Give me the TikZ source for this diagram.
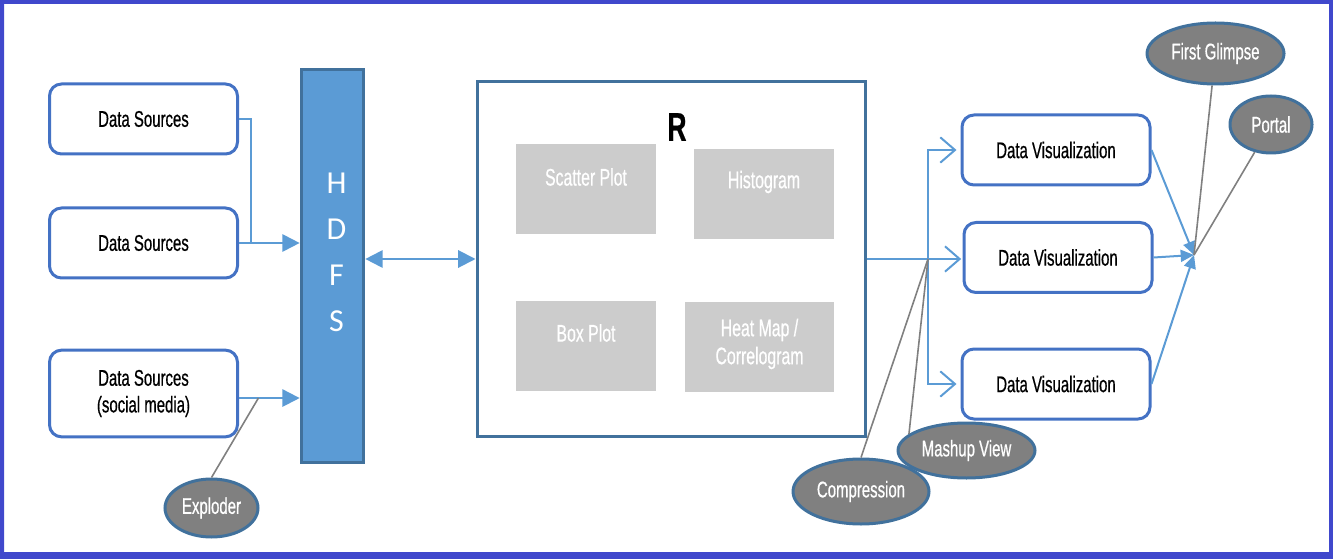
\documentclass[tikz,border=0pt]{standalone}
\usepackage{fontspec}
\setmainfont{Liberation Sans}[FakeStretch=0.66,FakeBold=0.6]
\newfontfamily\hdfsfont{Carlito}
\usepackage{tikz}
\usetikzlibrary{arrows.meta,shapes.geometric}
\definecolor{frameblue}{RGB}{64,72,204}
\definecolor{boxblue}{RGB}{68,114,196}
\definecolor{lineblue}{RGB}{91,155,213}
\definecolor{darkedge}{RGB}{65,113,156}
\definecolor{plotgray}{RGB}{204,204,204}
\definecolor{taggray}{RGB}{128,128,128}
\tikzstyle{srcbox} = [draw=boxblue, line width=2.25pt, fill=white,
    rectangle, rounded corners=9pt, minimum width=141pt, minimum height=52.5pt,
    align=center, font=\fontsize{17}{20}\selectfont]
\tikzstyle{plotbox} = [fill=plotgray, rectangle, minimum width=105pt, minimum height=67.5pt]
\tikzstyle{plottext} = [text=white, font=\fontsize{18}{21}\selectfont, align=center]
\tikzstyle{tag} = [ellipse, draw=darkedge, fill=taggray, line width=2.25pt, inner sep=0pt,
    text=white, font=\fontsize{17}{20}\selectfont]
\tikzstyle{flow} = [draw=lineblue, line width=1.5pt]
\tikzstyle{flowarrow} = [flow, -{Triangle[length=13pt,width=13pt]}]
\tikzstyle{openarrow} = [flow, -{Straight Barb[length=11pt,width=19pt]}]
\tikzstyle{mergearrow} = [flow, -{Triangle[length=10pt,width=9pt]}]
\tikzstyle{tagline} = [draw=taggray, line width=1.2pt]
\begin{document}
\begin{tikzpicture}[x=0.75pt, y=-0.75pt]
    \useasboundingbox (0,0) rectangle (1333,559);
    \fill[frameblue, even odd rule] (0,0) rectangle (1333,559) (4,4) rectangle (1329,552);

    \node [srcbox] (src1) at (143.5,119) {Data Sources};
    \node [srcbox] (src2) at (143.5,243) {Data Sources};
    \node [srcbox, minimum height=65pt] (src3) at (143.5,393.5) {Data Sources\\(social media)};

    \node [draw=darkedge, fill=lineblue, line width=2.25pt, rectangle,
        minimum width=47pt, minimum height=294pt] (hdfs) at (332.5,266) {};
    \node [text=white, align=center, font=\hdfsfont\fontsize{24}{34.5}\selectfont]
        at ([xshift=3pt,yshift=10.5pt]hdfs.center) {H\\D\\F\\S};

    \node [draw=darkedge, line width=2.25pt, fill=white, rectangle,
        minimum width=291pt, minimum height=265.5pt] (rbox) at (671,259) {};
    \node [font=\fontsize{30}{30}\selectfont\bfseries] at (677,127) {R};

    \node [plotbox] (plot1) at (586,189) {};
    \node [plottext] at ([yshift=9pt]plot1.center) {Scatter Plot};
    \node [plotbox] (plot2) at (764,194) {};
    \node [plottext] at ([yshift=9pt]plot2.center) {Histogram};
    \node [plotbox] (plot3) at (586,346) {};
    \node [plottext] at ([yshift=9.75pt]plot3.center) {Box Plot};
    \node [plotbox, minimum width=111.75pt] (plot4) at (759.5,347) {};
    \node [plottext] at ([yshift=2.25pt]plot4.center) {Heat Map /\\Correlogram};

    \node [srcbox] (vis1) at (1056,150) {Data Visualization};
    \node [srcbox] (vis2) at (1058,257.5) {Data Visualization};
    \node [srcbox] (vis3) at (1056,384) {Data Visualization};

    \node [tag, minimum width=69.75pt, minimum height=43.5pt] (exploder) at (211.5,508) {Exploder};
    \node [tag, minimum width=102pt, minimum height=48.75pt] (compress) at (861,491.5) {Compression};
    \node [tag, minimum width=102.75pt, minimum height=41.25pt] (mashup) at (966.5,450.5) {Mashup View};
    \node [tag, minimum width=102.75pt, minimum height=45.75pt] (glimpse) at (1215.5,53.5) {First Glimpse};
    \node [tag, minimum width=61.5pt, minimum height=42.75pt] (portal) at (1271,124.5) {Portal};

    \coordinate (srcjoin) at (251,243);
    \coordinate (split) at (928,259);
    \coordinate (merge) at (1194,255);

    \draw[flow] (src1.east) -| (srcjoin);
    \draw[flowarrow] (src2.east) -- (src2.east -| hdfs.west);
    \draw[flowarrow] ([yshift=-3.4pt]src3.east) -- ([yshift=-3.4pt]src3.east -| hdfs.west)
        coordinate[pos=0.32] (explodept);
    \draw[tagline] (exploder.north) -- (explodept);

    \draw[flow, {Triangle[length=13pt,width=13pt]}-{Triangle[length=13pt,width=13pt]}]
        (rbox.west -| hdfs.east) -- (rbox.west);

    \draw[flow] (rbox.east) -- (split);
    \draw[openarrow] (split) |- ([xshift=-3pt]vis1.west);
    \draw[openarrow] (split) -- ([xshift=-1pt]split -| vis2.west);
    \draw[openarrow] (split) |- ([xshift=-3pt]vis3.west);
    \draw[tagline] (split) -- (compress.north);
    \draw[tagline] (split) -- (mashup.164);

    \draw[mergearrow] (vis1.east) -- (merge);
    \draw[mergearrow] (vis2.east) -- (merge);
    \draw[mergearrow] (vis3.east) -- (merge);
    \draw[tagline] (merge) -- (glimpse);
    \draw[tagline] (merge) -- (portal);
\end{tikzpicture}
\end{document}
